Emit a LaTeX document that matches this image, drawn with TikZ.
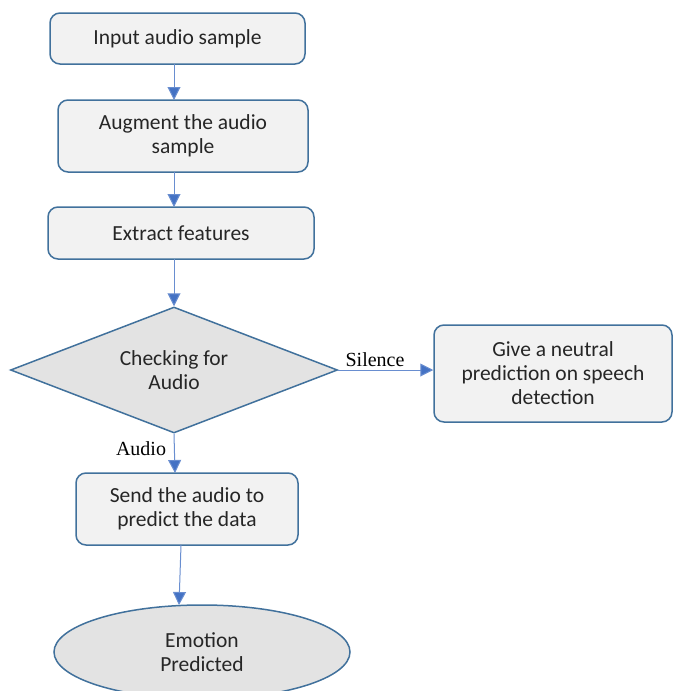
\documentclass[tikz,border=0pt]{standalone}
\usepackage{fontspec}
\setmainfont{Carlito}
\newfontfamily\serifl{Liberation Serif}
\usetikzlibrary{shapes.geometric,arrows.meta}
\definecolor{bord}{HTML}{41719C}
\definecolor{arr}{HTML}{4472C4}
\definecolor{boxfill}{HTML}{F2F2F2}
\definecolor{shapefill}{HTML}{E3E3E3}
\tikzset{
  x=1pt,y=1pt,
  txt/.style={font=\fontsize{21.5}{24}\selectfont,text=black!85},
  procbox/.style={draw=bord,line width=1.5pt,fill=boxfill,rounded corners=10pt,align=center,txt,inner sep=0pt},
  conn/.style={draw=arr!80,line width=1pt,-{Triangle[length=13pt,width=13pt,fill=arr]}},
  lbl/.style={font=\serifl\fontsize{20}{22}\selectfont,inner sep=0pt}
}
\begin{document}
\begin{tikzpicture}
\useasboundingbox (0,0) rectangle (673,-691);
\clip (0,0) rectangle (673,-691);
\node[procbox,minimum width=255pt,minimum height=51pt] (b1) at (177.5,-38.5) {Input audio sample};
\node[procbox,minimum width=250pt,minimum height=72pt] (b2) at (183,-136) {Augment the audio\\sample};
\node[procbox,minimum width=266pt,minimum height=52pt] (b3) at (181,-233) {Extract features};
\node[diamond,draw=bord,line width=1.5pt,fill=shapefill,aspect=2.6,minimum width=327pt,minimum height=126pt,inner sep=0pt,align=center,txt] (d) at (174,-370) {Checking for\\Audio};
\node[procbox,minimum width=238pt,minimum height=97pt] (b5) at (553,-373.5) {Give a neutral\\prediction on speech\\detection};
\node[procbox,minimum width=222pt,minimum height=72pt] (b4) at (187,-509) {Send the audio to\\predict the data};
\node[ellipse,draw=bord,line width=1.5pt,fill=shapefill,minimum width=296pt,minimum height=94pt,inner sep=0pt,align=center,txt] (e) at (202,-652) {Emotion\\Predicted};
\coordinate (a1s) at (174,-64);
\coordinate (a1e) at (174,-100);
\draw[conn] (a1s) -- (a1e);
\coordinate (a2s) at (174,-172);
\coordinate (a2e) at (174,-207);
\draw[conn] (a2s) -- (a2e);
\coordinate (a3s) at (174,-259);
\draw[conn] (a3s) -- (d.north);
\draw[conn] (d.east) -- (b5.west |- d.east);
\coordinate (a5e) at (175,-473);
\draw[conn] (d.south) -- (a5e);
\coordinate (a6s) at (181,-545);
\coordinate (a6e) at (179,-605);
\draw[conn] (a6s) -- (a6e);
\node[lbl] (ls) at (375,-360) {Silence};
\node[lbl] (la) at (141,-449) {Audio};
\end{tikzpicture}
\end{document}
